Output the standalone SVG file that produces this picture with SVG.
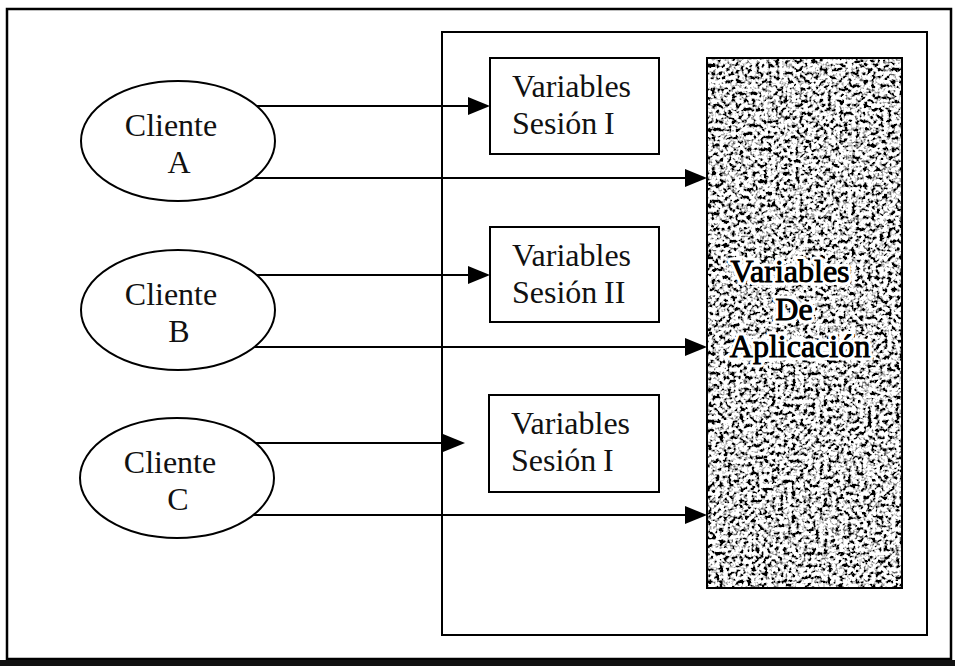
<svg xmlns="http://www.w3.org/2000/svg" width="955" height="666" viewBox="0 0 955 666">
<style>
.ln{fill:none;stroke:#000;stroke-width:2}
.shape{fill:#fff;stroke:#000;stroke-width:2}
.t{font-family:"Liberation Serif","Times New Roman",serif;font-size:32px;fill:#111}
.halo{font-family:"Liberation Serif","Times New Roman",serif;font-size:32px;fill:#000;stroke:#fff;stroke-width:7px;paint-order:stroke;stroke-linejoin:round}
.ink{font-family:"Liberation Serif","Times New Roman",serif;font-size:32px;fill:#000;stroke:#000;stroke-width:0.8px}
</style>
<defs>
<marker id="ah" markerWidth="22" markerHeight="18" refX="12" refY="9" orient="auto" markerUnits="userSpaceOnUse">
<path d="M0,0 L22,9 L0,18 z" fill="#000"/>
</marker>
<filter id="speckle" x="0" y="0" width="1" height="1" color-interpolation-filters="sRGB">
<feTurbulence type="fractalNoise" baseFrequency="0.25" numOctaves="3" seed="11" result="n"/>
<feColorMatrix in="n" type="matrix" values="3 0 0 0 -0.9  3 0 0 0 -0.9  3 0 0 0 -0.9  0 0 0 0 1"/>
<feComponentTransfer>
<feFuncR type="discrete" tableValues="0 0.4 0.65 0.85 1 1"/>
<feFuncG type="discrete" tableValues="0 0.4 0.65 0.85 1 1"/>
<feFuncB type="discrete" tableValues="0 0.4 0.65 0.85 1 1"/>
<feFuncA type="linear" slope="0" intercept="1"/>
</feComponentTransfer>
</filter>
</defs>
<rect width="955" height="666" fill="#fff"/>
<g id="frame">
<rect x="7" y="9" width="944" height="650" fill="none" stroke="#000" stroke-width="2.5"/>
<rect x="0" y="660" width="955" height="6" fill="#111"/>
</g>
<g id="server">
<rect x="442" y="32" width="485" height="603" class="shape"/>
</g>
<g id="cliente-a">
<ellipse cx="178" cy="141" rx="97" ry="60" class="shape"/>
<text class="t" x="171" y="136" text-anchor="middle">Cliente</text>
<text class="t" x="179" y="173" text-anchor="middle">A</text>
</g>
<g id="cliente-b">
<ellipse cx="178" cy="310" rx="97" ry="60" class="shape"/>
<text class="t" x="171" y="305" text-anchor="middle">Cliente</text>
<text class="t" x="179" y="342" text-anchor="middle">B</text>
</g>
<g id="cliente-c">
<ellipse cx="177" cy="478" rx="97" ry="60" class="shape"/>
<text class="t" x="170" y="473" text-anchor="middle">Cliente</text>
<text class="t" x="178" y="510" text-anchor="middle">C</text>
</g>
<g id="sesion-1">
<rect x="490" y="58" width="169" height="96" class="shape"/>
<text class="t" x="512" y="97">Variables</text>
<text class="t" x="512" y="134">Sesión<tspan x="604">I</tspan></text>
</g>
<g id="sesion-2">
<rect x="490" y="227" width="169" height="95" class="shape"/>
<text class="t" x="512" y="266">Variables</text>
<text class="t" x="512" y="303">Sesión<tspan x="604">II</tspan></text>
</g>
<g id="sesion-3">
<rect x="489" y="395" width="170" height="97" class="shape"/>
<text class="t" x="511" y="434">Variables</text>
<text class="t" x="511" y="471">Sesión<tspan x="603">I</tspan></text>
</g>
<g id="aplicacion">
<rect x="707" y="58" width="195" height="530" fill="#999" filter="url(#speckle)"/>
<rect x="707" y="58" width="195" height="530" fill="none" stroke="#000" stroke-width="2"/>
<text class="halo" x="790" y="282" text-anchor="middle">Variables</text>
<text class="halo" x="794" y="320" text-anchor="middle">De</text>
<text class="halo" x="800" y="357" text-anchor="middle">Aplicación</text>
<text class="ink" x="790" y="282" text-anchor="middle">Variables</text>
<text class="ink" x="794" y="320" text-anchor="middle">De</text>
<text class="ink" x="800" y="357" text-anchor="middle">Aplicación</text>
</g>
<g id="connectors">
<path class="ln" d="M257,106 H480" marker-end="url(#ah)"/>
<path class="ln" d="M254,178 H697" marker-end="url(#ah)"/>
<path class="ln" d="M257,275 H480" marker-end="url(#ah)"/>
<path class="ln" d="M254,347 H697" marker-end="url(#ah)"/>
<path class="ln" d="M256,443 H455" marker-end="url(#ah)"/>
<path class="ln" d="M253,515 H697" marker-end="url(#ah)"/>
</g>
</svg>
